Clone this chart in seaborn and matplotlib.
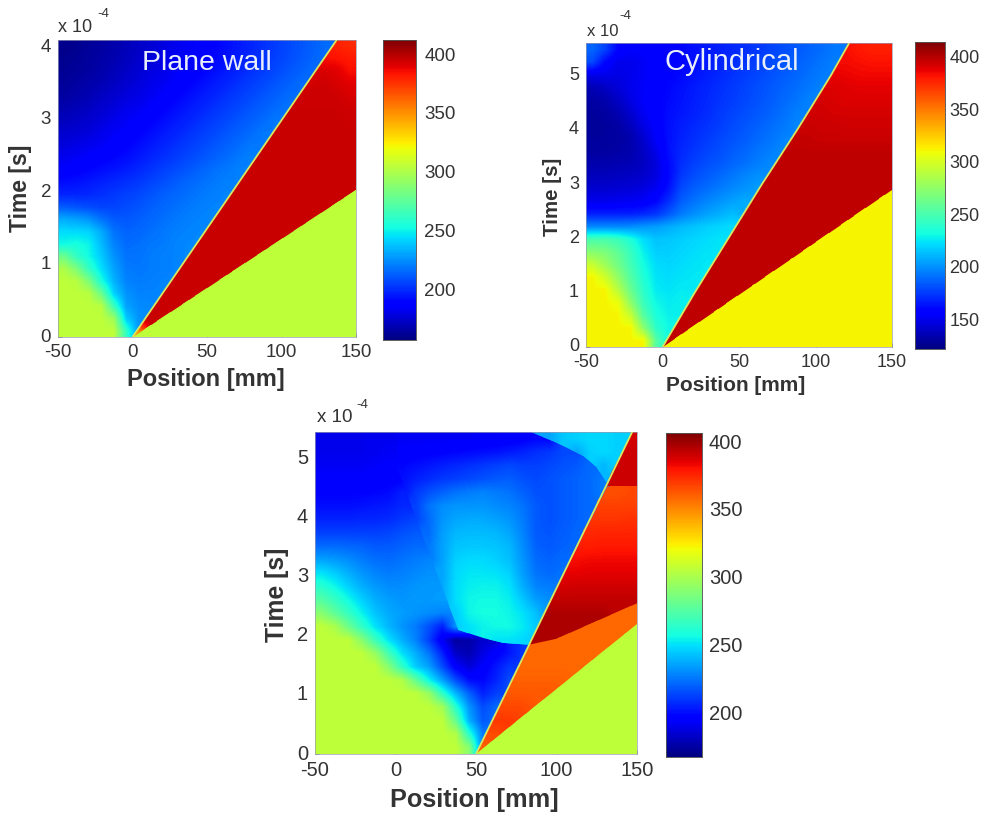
import numpy as np
import matplotlib
matplotlib.use("Agg")
import matplotlib.pyplot as plt
from matplotlib.path import Path
from matplotlib.patches import Polygon
import seaborn as sns

R = 396
G = 305
plane_wall = [
 [160,161,163,165,167,170,173,176,179,182,184,186,189,192,195,198,201,204,207,210,213,216,380,378],
 [161,162,164,166,168,171,174,177,180,183,185,188,190,193,196,199,202,205,208,211,214,385,384,382],
 [162,163,165,167,170,173,176,179,181,184,187,189,192,195,198,201,204,207,210,213,216,392,390,385],
 [163,165,167,169,172,175,178,181,183,186,189,192,195,198,201,204,207,210,213,216,393,394,392,390],
 [165,167,169,172,175,178,180,183,186,189,192,195,198,201,204,207,210,213,216,394,395,395,394,392],
 [168,170,172,175,178,181,183,186,189,192,195,198,201,204,207,210,213,216,218,395,395,395,395,394],
 [171,173,175,178,181,184,186,189,192,195,198,201,204,207,210,213,216,219]+[R]*5+[395],
 [175,176,178,181,184,186,189,192,195,198,201,204,207,210,213,216,219]+[R]*7,
 [178,180,182,184,187,189,192,195,198,201,204,207,210,213,216,219]+[R]*8,
 [182,184,186,188,190,192,195,198,201,204,207,210,213,216,219,221]+[R]*8,
 [186,188,190,192,194,196,199,202,205,208,211,214,217,219,221]+[R]*9,
 [192,193,195,197,199,201,203,206,209,212,215,217,219,221]+[R]*10,
 [198,198,199,201,203,205,207,210,213,215,217,219,221,222]+[R]*9+[G],
 [212,210,208,206,206,208,210,213,215,217,219,221,222]+[R]*9+[G]*2,
 [232,230,226,218,212,211,213,215,217,219,221,222,223]+[R]*7+[G]*4,
 [244,244,242,232,218,214,215,217,219,221,222,223]+[R]*7+[G]*5,
 [252,254,250,236,222,216,217,219,220,222,223]+[R]*6+[G]*7,
 [280,262,252,240,226,218,218,220,221,222]+[R]*6+[G]*8,
 [300,285,262,245,230,220,219,220,221,222]+[R]*4+[G]*10,
 [G,303,285,255,234,222,220,221,222]+[R]*4+[G]*11,
 [G,G,303,280,242,226,222,222]+[R]*3+[G]*13,
 [G,G,G,303,265,230,224,223]+[R]*2+[G]*14,
 [G,G,G,G,295,240,226,R]+[G]*16,
 [G,G,G,G,G,262,350]+[G]*17,
]

Y = 312
D = 398
cylindrical = [
 [188,178,160,155,155,156,158,160,163,166,168,170,172,175,178,181,184,187,190,193,383,380,378,378],
 [180,160,150,150,153,156,158,160,163,166,169,171,174,177,180,183,186,189,192,195,384,383,382,382],
 [150,150,148,150,153,156,159,161,164,167,170,173,176,179,182,185,188,191,194,387,386,385,385,385],
 [136,140,145,150,154,157,160,163,166,169,172,175,178,181,184,187,190,193,196,390,389,388,388,388],
 [132,134,140,148,154,158,161,164,167,170,173,176,179,182,185,189,192,196,392,391,390,390,390,390],
 [130,131,135,143,152,158,162,165,168,171,175,178,181,184,187,191,195,393,393,392,392,392,392,392],
 [129,130,132,138,148,156,163,167,170,173,176,180,183,186,190,193,197,395,394,394,393,393,393,393],
 [130,130,131,134,143,154,163,168,172,175,179,182,185,189,192,196,396,396,395,395,395,395,395,395],
 [131,131,132,134,140,150,163,170,174,178,181,185,188,192,195,198]+[397]*8,
 [134,134,135,136,139,146,161,172,177,181,184,188,191,195,198]+[D]*9,
 [138,138,139,140,142,147,160,175,181,185,189,193,197,200]+[D]*10,
 [143,143,144,145,147,152,164,180,186,190,194,198,201,204]+[D]*10,
 [150,150,151,152,154,160,172,186,192,197,201,205,208]+[D]*10+[Y],
 [168,168,168,168,170,174,184,194,200,205,209,213,216]+[D]*8+[Y]*3,
 [198,198,198,199,202,204,208,212,215,218,220,222]+[D]*8+[Y]*4,
 [250,250,245,235,222,215,216,218,220,222,224]+[D]*7+[Y]*6,
 [272,268,258,244,228,218,218,220,222,224]+[D]*7+[Y]*7,
 [295,280,265,248,232,222,220,222,224,225]+[D]*6+[Y]*8,
 [Y,298,276,254,236,224,222,224,225]+[D]*5+[Y]*10,
 [Y,Y,290,262,240,226,224,226]+[D]*5+[Y]*11,
 [Y,Y,308,275,245,230,226,228]+[D]*3+[Y]*13,
 [Y,Y,Y,295,255,234,228]+[D]*3+[Y]*14,
 [Y,Y,Y,Y,275,240,230,D]+[Y]*16,
 [Y,Y,Y,Y,Y,255,D]+[Y]*17,
]

L = 306
O = 358
K = 396
third_case = [
 [190,190,190,190,191,191,192,192,192,192,192,192,193,193,194,196,198,236,244,246,248,248,246,388],
 [190,190,190,190,191,192,194,195,196,197,198,199,200,201,203,205,208,210,214,236,246,248,246,390],
 [192,192,192,192,193,194,198,200,202,204,206,208,210,212,214,212,212,214,216,218,222,240,390,390],
 [194,194,194,194,195,196,200,204,207,210,212,214,216,218,219,216,214,216,218,220,222,226,390,390],
 [197,197,197,197,198,199,204,210,216,220,224,226,228,226,224,220,216,216,218,220,222,224,364,366],
 [200,200,200,201,202,203,206,212,224,230,232,232,232,230,228,224,218,216,218,220,222,368,368,368],
 [205,205,205,206,206,207,210,213,222,232,236,237,237,235,232,226,218,216,218,220,222,371,371,372],
 [212,212,212,212,212,213,216,218,222,234,240,241,241,240,236,228,218,217,219,221,374,375,375,375],
 [222,222,221,220,218,218,220,222,225,235,243,244,244,243,240,230,220,218,220,222,377,378,378,378],
 [235,233,230,226,223,222,224,226,228,235,246,248,248,246,242,232,222,220,222,381,382,382,382,382],
 [250,245,238,232,228,226,227,229,231,236,248,251,251,250,246,234,224,222,224,384,385,385,385,385],
 [262,255,246,238,233,230,230,232,233,236,249,253,254,254,250,238,228,226,388,389,389,389,389,389],
 [275,266,256,246,238,234,232,233,233,234,249,255,256,256,253,244,234,230]+[392]*6,
 [290,278,266,254,243,237,234,232,230,228,245,255,257,257,255,250,242]+[K]*5+[O]*2,
 [L,300,282,265,250,240,232,226,216,204,232,250,254,256,256,252,244]+[K]*3+[O]*4,
 [L,L,L,290,268,250,238,228,212,192,174,176,184,250,250,248,K,K]+[O]*5+[L],
 [L,L,L,L,295,270,250,238,225,205,182,178,188,196,202,210]+[O]*5+[L]*3,
 [L,L,L,L,L,290,265,245,235,215,195,186,194,202,210]+[O]*5+[L]*4,
 [L,L,L,L,L,L,302,280,255,235,215,200,198,205,215]+[360]*4+[L]*5,
 [L]*8+[295,265,240,220,205,212]+[362]*4+[L]*6,
 [L]*9+[298,262,232,215,222]+[366]*2+[L]*8,
 [L]*10+[280,238,218]+[370]*2+[L]*9,
 [L]*10+[302,262,226,365]+[L]*10,
 [L]*11+[290,360]+[L]*11,
]

x_ticks = [-50, 0, 50, 100, 150]
panel_a_t = [0, 1, 2, 3, 4]
panel_b_t = [0, 1, 2, 3, 4, 5]
panel_c_t = [0, 1, 2, 3, 4, 5]
cbar_a = [200, 250, 300, 350, 400]
cbar_b = [150, 200, 250, 300, 350, 400]
cbar_c = [200, 250, 300, 350, 400]

# wave fronts: position [mm], time [1e-4 s]
shock_a = [(0, 0), (137, 4.1)]
lower_a = [(0, 0), (150, 2.03)]
shock_b = [(0, 0), (21, 1), (43, 2), (65, 3), (88, 4), (110, 5), (122, 5.6)]
lower_b = [(0, 0), (150, 2.9)]
shock_c = [(50, 0), (83, 1.85), (147, 5.45)]
lower_c = [(50, 0), (150, 2.2)]
contact_c = [(83, 1.85), (100, 1.95), (125, 2.25), (150, 2.55)]
arc_c = [(84, 5.45), (100, 5.27), (117, 5.04), (125, 4.85), (131, 4.6)]
fan_c = [(39, 2.1), (55, 1.96), (67, 1.88), (83, 1.85)]

sns.set_theme(style="white")
plt.rcParams["font.family"] = ["Liberation Sans", "DejaVu Sans"]
W, H = 981, 814
fig = plt.figure(figsize=(W / 100, H / 100), dpi=100)
INK = "#333333"


def box(l, r, t, b):
    return [l / W, 1 - b / H, (r - l) / W, (b - t) / H]


def txt(px, py, s, **kw):
    kw.setdefault("color", INK)
    fig.text(px / W, 1 - py / H, s, ha="center", va="center", **kw)


def panel(data, t_max, t_ticks, vmin, vmax, cticks, axbox, cbox, fs, cpad, regions, shock):
    ax = fig.add_axes(box(*axbox))
    cax = fig.add_axes(box(*cbox))
    arr = np.array(data, dtype=float)
    nr, nc = arr.shape
    sns.heatmap(arr, ax=ax, cbar_ax=cax, cmap="jet", vmin=vmin, vmax=vmax,
                cbar_kws={"ticks": cticks}, rasterized=True)

    def to_cells(pts):
        return [((x + 50) / 200 * nc, (t_max - t) / t_max * nr) for x, t in pts]

    cols, rows = np.meshgrid(np.arange(nc) + 0.5, np.arange(nr) + 0.5)
    centres = np.column_stack([cols.ravel(), rows.ravel()])
    for pts, lo, hi in regions:
        poly = to_cells(pts)
        inside = Path(poly).contains_points(centres).reshape(nr, nc) & (arr >= lo) & (arr <= hi)
        # outside a region hold the closest value of that region, so that the
        # smooth rendering does not bleed across a sharp front
        ii, jj = np.nonzero(inside)
        layer = arr.copy()
        for i, j in zip(*np.nonzero(~inside)):
            k = np.argmin((ii - i) ** 2 + (jj - j) ** 2)
            layer[i, j] = arr[ii[k], jj[k]]
        im = ax.imshow(layer, cmap="jet", vmin=vmin, vmax=vmax, aspect="auto",
                       extent=(0, nc, nr, 0), interpolation="bilinear", zorder=2)
        im.set_clip_path(Polygon(poly, closed=True, transform=ax.transData))
    sx, st = zip(*to_cells(shock))
    ax.plot(sx, st, color="#d8e860", lw=1.3, zorder=3, solid_capstyle="butt")
    ax.set_xlim(0, nc)
    ax.set_ylim(nr, 0)

    ax.set_xticks([(v + 50) / 200 * nc for v in x_ticks])
    ax.set_xticklabels([str(v) for v in x_ticks], rotation=0, fontsize=fs, color=INK)
    ax.set_yticks([(t_max - v) / t_max * nr for v in t_ticks])
    ax.set_yticklabels([str(v) for v in t_ticks], rotation=0, fontsize=fs, color=INK)
    ax.tick_params(direction="in", length=3, width=0.6, pad=5, bottom=True, left=True, color="#777777")
    for s in ax.spines.values():
        s.set_visible(True)
        s.set_linewidth(0.5)
        s.set_edgecolor("#9a9ab0")
    cax.tick_params(right=True, length=3, width=0.6, direction="in", pad=cpad,
                    labelsize=fs, labelcolor=INK, color="#555555")
    for s in cax.spines.values():
        s.set_visible(True)
        s.set_linewidth(0.5)
        s.set_edgecolor("#555555")
    return ax


TA = 4.1
regions_a = [
    ([(-50, 0)] + shock_a + [(-50, TA)], 0, 315),
    (lower_a + [(150, TA)] + shock_a[::-1], 340, 420),
    ([(0, 0), (150, 0), (150, 2.03)], 295, 320),
]
TB = 5.6
regions_b = [
    ([(-50, 0)] + shock_b + [(-50, TB)], 0, 320),
    (lower_b + [(150, TB)] + shock_b[::-1], 340, 420),
    ([(0, 0), (150, 0), (150, 2.9)], 295, 320),
]
TC = 5.45
regions_c = [
    ([(-50, 0), (50, 0)] + fan_c[::-1] + [(1, 4.85), (1, TC), (-50, TC)], 0, 315),
    (fan_c + arc_c[::-1] + [(1, TC), (1, 4.85)], 0, 262),
    (arc_c + [(147, TC)], 228, 262),
    (contact_c + [(150, 4.53), (131.5, 4.53)], 362, 400),
    ([(131.5, 4.53), (150, 4.53), (150, TC), (147, TC)], 380, 400),
    ([(50, 0)] + contact_c + [(150, 2.2)], 350, 372),
    ([(50, 0), (150, 0), (150, 2.2)], 295, 320),
]

panel(plane_wall, TA, panel_a_t, 157, 412, cbar_a, (58, 356, 40, 337), (383, 416, 40, 340), 13.5, 6, regions_a, shock_a)
panel(cylindrical, TB, panel_b_t, 122, 414, cbar_b, (586, 892, 43, 347), (915, 945, 42, 349), 13, 3, regions_b, shock_b)
panel(third_case, TC, panel_c_t, 167, 406, cbar_c, (315, 637, 432, 754), (666, 702, 433, 757), 14.5, 5, regions_c, shock_c)

txt(207, 63, "Plane wall", color="#e8eefc", fontsize=20.5)
txt(732, 62, "Cylindrical", color="#e8eefc", fontsize=21)

txt(206, 379, "Position [mm]", fontsize=17, fontweight="bold")
txt(736, 385, "Position [mm]", fontsize=15, fontweight="bold")
txt(474, 800, "Position [mm]", fontsize=18.2, fontweight="bold")
txt(21, 188, "Time [s]", fontsize=16.5, fontweight="bold", rotation=90)
txt(553, 197, "Time [s]", fontsize=14.8, fontweight="bold", rotation=90)
txt(277, 595, "Time [s]", fontsize=17.8, fontweight="bold", rotation=90)

txt(75, 27, "x 10", fontsize=13)
txt(103, 14, "-4", fontsize=9.5)
txt(603, 31, "x 10", fontsize=12)
txt(625, 16, "-4", fontsize=9.5)
txt(335, 417, "x 10", fontsize=13.5)
txt(362, 405, "-4", fontsize=9.5)

fig.savefig("out.png", dpi=100, facecolor="white")
